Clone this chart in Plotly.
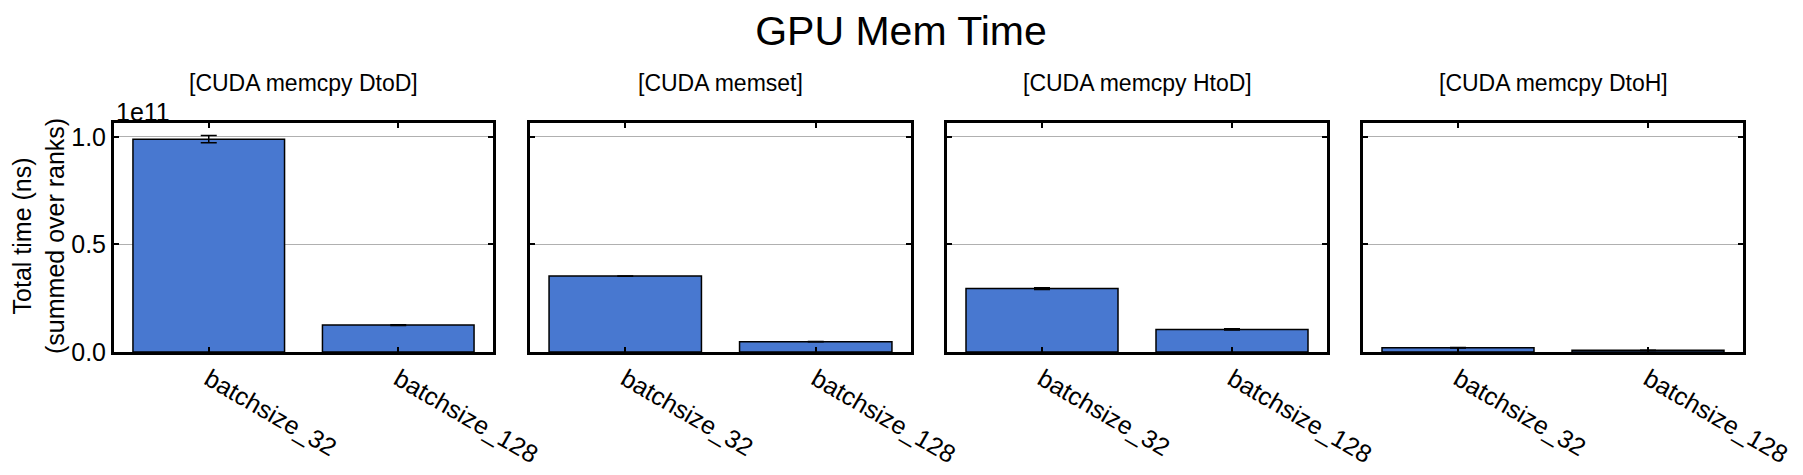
import plotly.graph_objects as go

W, H = 1803, 475
OFF = 8  # page body margin offset of the rendered figure

categories = ["batchsize_32", "batchsize_128"]
panel_titles = ["[CUDA memcpy DtoD]", "[CUDA memset]", "[CUDA memcpy HtoD]", "[CUDA memcpy DtoH]"]
dtod_vals = [9.9e10, 1.25e10]
dtod_err = [1.7e9, 2.0e8]
memset_vals = [3.53e10, 4.8e9]
memset_err = [1.0e8, 5.0e7]
htod_vals = [2.95e10, 1.05e10]
htod_err = [4.0e8, 3.0e8]
dtoh_vals = [2.0e9, 8.0e8]
dtoh_err = [1.0e8, 5.0e7]

series = [(dtod_vals, dtod_err), (memset_vals, memset_err), (htod_vals, htod_err), (dtoh_vals, dtoh_err)]

ytickvals = [0, 0.5e11, 1.0e11]
yticktext = ["0.0", "0.5", "1.0"]
ymax = 1.065e11

FONT = "Liberation Sans, Arial, sans-serif"
BAR = "#4878d0"


def fx(px):
    return (px - OFF) / W


def fy(py):
    return 1 - (py - OFF) / H


# panel pixel extents (screen coordinates)
px_x = [(114, 493), (530, 911), (947, 1327), (1363, 1743)]
px_top, px_bot = 123, 352

fig = go.Figure()
layout = {}
annotations = []
for i, ((vals, errs), title, (x0, x1)) in enumerate(zip(series, panel_titles, px_x)):
    n = i + 1
    xa = "x" if n == 1 else f"x{n}"
    ya = "y" if n == 1 else f"y{n}"
    fig.add_trace(go.Bar(
        x=categories, y=vals, xaxis=xa, yaxis=ya, width=0.8,
        marker=dict(color=BAR, line=dict(color="black", width=1.5)),
        error_y=dict(type="data", array=errs, visible=True, color="black", thickness=1.5, width=8),
        showlegend=False,
    ))
    xkey = "xaxis" if n == 1 else f"xaxis{n}"
    ykey = "yaxis" if n == 1 else f"yaxis{n}"
    layout[xkey] = dict(
        domain=[fx(x0), fx(x1)], anchor=ya, type="category", range=[-0.5, 1.5],
        showline=True, linecolor="black", linewidth=3, mirror="allticks",
        ticks="inside", ticklen=5, tickwidth=2, tickcolor="black",
        tickangle=30, tickfont=dict(family=FONT, size=25, color="black"),
        showgrid=False, zeroline=False, fixedrange=True, automargin=False,
    )
    layout[ykey] = dict(
        domain=[fy(px_bot), fy(px_top)], anchor=xa, range=[0, ymax],
        showline=True, linecolor="black", linewidth=3, mirror="allticks",
        ticks="inside", ticklen=5, tickwidth=2, tickcolor="black",
        tickvals=ytickvals, ticktext=yticktext, showticklabels=(n == 1),
        tickfont=dict(family=FONT, size=25, color="black"),
        showgrid=True, gridcolor="#b0b0b0", gridwidth=1.3, zeroline=False,
        automargin=False,
    )
    annotations.append(dict(
        text=title, x=fx((x0 + x1) / 2), y=fy(83), xref="paper", yref="paper",
        xanchor="center", yanchor="middle", showarrow=False,
        font=dict(family=FONT, size=23, color="black"),
    ))

annotations.append(dict(
    text="1e11", x=fx(114), y=fy(112), xref="paper", yref="paper",
    xanchor="left", yanchor="middle", showarrow=False,
    font=dict(family=FONT, size=25, color="black"),
))
annotations.append(dict(
    text="Total time (ns)<br>(summed over ranks)", x=fx(38), y=fy(236),
    xref="paper", yref="paper", xanchor="center", yanchor="middle",
    textangle=-90, showarrow=False,
    font=dict(family=FONT, size=25, color="black"),
))

fig.update_layout(
    width=W, height=H,
    margin=dict(l=0, r=0, t=0, b=0),
    paper_bgcolor="white", plot_bgcolor="white",
    title=dict(text="GPU Mem Time", x=fx(901), y=fy(31), xanchor="center", yanchor="middle",
               font=dict(family=FONT, size=41, color="black")),
    annotations=annotations,
    bargap=0.2,
    **layout,
)

fig.write_html("out.html")
